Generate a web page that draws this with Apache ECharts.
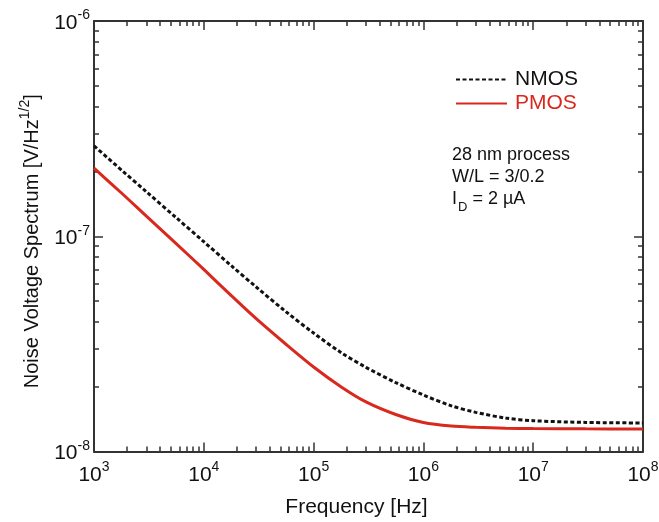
<!DOCTYPE html>
<html><head><meta charset="utf-8">
<script src="https://cdn.jsdelivr.net/npm/echarts@6/dist/echarts.min.js"></script>
<style>html,body{margin:0;padding:0;background:#fff}#c{width:659px;height:522px}</style>
</head><body><div id="c"></div>
<script>
// Data
const freq = [1e3, 1.8e3, 3e3, 5.6e3, 1e4, 1.8e4, 3e4, 5.6e4, 1e5, 1.8e5, 3e5, 5.6e5, 1e6, 1.8e6, 3e6, 5.6e6, 1e7, 3e7, 1e8];
const nmos = [2.63e-7, 2.02e-7, 1.61e-7, 1.22e-7, 9.43e-8, 7.26e-8, 5.81e-8, 4.46e-8, 3.55e-8, 2.87e-8, 2.46e-8, 2.09e-8, 1.83e-8, 1.63e-8, 1.52e-8, 1.43e-8, 1.39e-8, 1.365e-8, 1.357e-8];
const pmos = [2.07e-7, 1.58e-7, 1.24e-7, 9.25e-8, 7.01e-8, 5.27e-8, 4.14e-8, 3.15e-8, 2.47e-8, 1.99e-8, 1.70e-8, 1.486e-8, 1.364e-8, 1.312e-8, 1.295e-8, 1.283e-8, 1.278e-8, 1.274e-8, 1.272e-8];
const xDecades = [3, 4, 5, 6, 7, 8];
const yDecades = [-8, -7, -6];
const seriesNames = ['NMOS', 'PMOS'];
const noteLines = ['28 nm process', 'W/L = 3/0.2', ' = 2 µA'];

const FONT = 'Liberation Sans, Arial, sans-serif';
const AX = '#333';
const RED = '#d9291f';

function minorVals(decs) {
  const out = [];
  for (let i = 0; i < decs.length - 1; i++) {
    for (let m = 2; m <= 9; m++) out.push(m * Math.pow(10, decs[i]));
  }
  return out;
}
const xMinor = minorVals(xDecades);
const yMinor = minorVals(yDecades);

const supRich = {
  b: { fontSize: 21, fontFamily: FONT, color: '#111', verticalAlign: 'bottom' },
  s: { fontSize: 14, fontFamily: FONT, color: '#111', verticalAlign: 'bottom', padding: [0, 0, 11, 0] }
};
function powFmt(v) {
  const e = Math.round(Math.log10(v));
  return '{b|10}{s|' + e + '}';
}

function xAx(pos, major) {
  return {
    type: 'log', logBase: 10, min: 1e3, max: 1e8, position: pos,
    axisLine: { show: major, onZero: false, lineStyle: { color: AX, width: 2 } },
    axisTick: major ? { show: true, inside: true, length: 9, lineStyle: { color: AX, width: 1.5 } }
                    : { show: true, inside: true, length: 5, customValues: xMinor, lineStyle: { color: AX, width: 1.5 } },
    axisLabel: (major && pos === 'bottom') ? { show: true, formatter: powFmt, rich: supRich, margin: 9 } : { show: false },
    splitLine: { show: false },
    minorTick: { show: false }
  };
}
function yAx(pos, major) {
  return {
    type: 'log', logBase: 10, min: 1e-8, max: 1e-6, position: pos,
    axisLine: { show: major, onZero: false, lineStyle: { color: AX, width: 2 } },
    axisTick: major ? { show: true, inside: true, length: 9, lineStyle: { color: AX, width: 1.5 } }
                    : { show: true, inside: true, length: 5, customValues: yMinor, lineStyle: { color: AX, width: 1.5 } },
    axisLabel: (major && pos === 'left') ? { show: true, formatter: powFmt, rich: supRich, margin: 4 } : { show: false },
    splitLine: { show: false },
    minorTick: { show: false }
  };
}

const xAxes = [xAx('bottom', true), xAx('bottom', false), xAx('top', true), xAx('top', false)];
xAxes[0].name = 'Frequency [Hz]';
xAxes[0].nameLocation = 'middle';
xAxes[0].nameGap = 45;
xAxes[0].nameTextStyle = { fontSize: 21, fontFamily: FONT, color: '#111', padding: [0, 24, 0, 0] };

const yAxes = [yAx('left', true), yAx('left', false), yAx('right', true), yAx('right', false)];
yAxes[0].name = '{n|Noise Voltage Spectrum [V/Hz}{s|1/2}{n|]}';
yAxes[0].nameLocation = 'middle';
yAxes[0].nameRotate = 90;
yAxes[0].nameGap = 52;
yAxes[0].nameTextStyle = {
  padding: [0, 10, 0, 0],
  rich: {
    n: { fontSize: 20, fontFamily: FONT, color: '#111', verticalAlign: 'bottom' },
    s: { fontSize: 14, fontFamily: FONT, color: '#111', verticalAlign: 'bottom', padding: [0, 0, 10, 0] }
  }
};

const chart = echarts.init(document.getElementById('c'), null, { renderer: 'canvas' });
chart.setOption({
  backgroundColor: '#fff',
  animation: false,
  grid: { left: 94, right: 16, top: 21, bottom: 70.5, containLabel: false, outerBoundsMode: 'none' },
  xAxis: xAxes,
  yAxis: yAxes,
  legend: {
    orient: 'vertical', left: 455, top: 69, padding: 0, itemWidth: 51, itemHeight: 12, itemGap: 3,
    selectedMode: false,
    itemStyle: { opacity: 0 },
    data: [
      { name: seriesNames[0], textStyle: { color: '#111' } },
      { name: seriesNames[1], textStyle: { color: RED } }
    ],
    textStyle: { fontSize: 21, fontFamily: FONT, padding: [0, 0, 0, 3] }
  },
  graphic: [{
    type: 'text', left: 452, top: 146,
    style: {
      text: '{t|' + noteLines[0] + '}\n{t|' + noteLines[1] + '}\n{t|I}{sub|D}{t|' + noteLines[2] + '}',
      rich: {
        t: { fontSize: 18, fontFamily: FONT, fill: '#111', lineHeight: 22, verticalAlign: 'top' },
        sub: { fontSize: 13, fontFamily: FONT, fill: '#111', lineHeight: 22, verticalAlign: 'top', padding: [11, 0, 0, 1] }
      }
    }
  }],
  series: [
    {
      name: seriesNames[0], type: 'line', xAxisIndex: 0, yAxisIndex: 0,
      data: freq.map((f, i) => [f, nmos[i]]), smooth: 0.3, showSymbol: false, symbol: 'none',
      lineStyle: { color: '#111', width: 3, type: [4, 2.5] }, itemStyle: { color: '#111' }, z: 3
    },
    {
      name: seriesNames[1], type: 'line', xAxisIndex: 0, yAxisIndex: 0,
      data: freq.map((f, i) => [f, pmos[i]]), smooth: 0.3, showSymbol: false, symbol: 'none',
      lineStyle: { color: RED, width: 3 }, itemStyle: { color: RED }, z: 2
    }
  ]
});
</script></body></html>
